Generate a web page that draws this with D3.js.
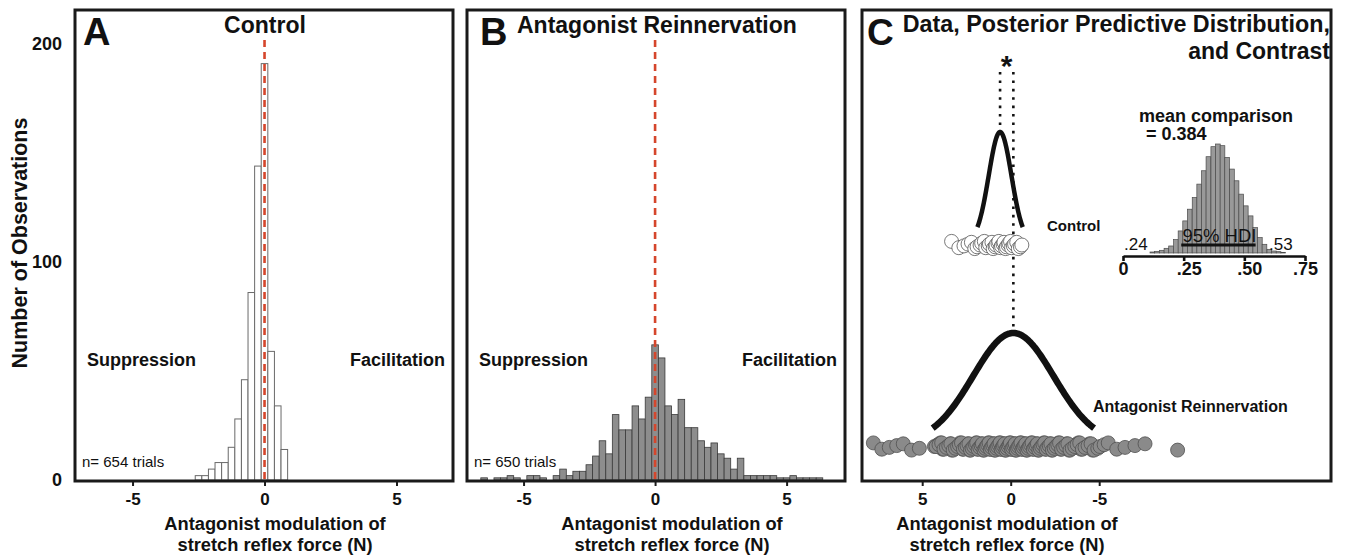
<!DOCTYPE html>
<html>
<head>
<meta charset="utf-8">
<script src="https://cdn.jsdelivr.net/npm/d3@7"></script>
<style>
  html, body { margin: 0; padding: 0; background: #fff; }
  svg { display: block; }
  text { font-family: "Liberation Sans", Arial, Helvetica, sans-serif; fill: #111; }
</style>
</head>
<body>
<svg id="fig" width="1345" height="555"></svg>
<script>
// ---------- data ----------
// Panel A: control trials, histogram (bin centres in N, counts)
const controlBinCenters = [-2.5, -2.25, -2, -1.75, -1.5, -1.25, -1, -0.75, -0.5, -0.25, 0, 0.25, 0.5, 0.75];
const controlCounts     = [2, 2, 5, 8, 8, 15, 28, 46, 86, 144, 191, 59, 34, 14];

// Panel B: antagonist reinnervation trials
const reinnBinCenters = [-6.5, -6.25, -6, -5.75, -5.5, -5.25, -5, -4.75, -4.5, -4.25, -4, -3.75, -3.5, -3.25,
  -3, -2.75, -2.5, -2.25, -2, -1.75, -1.5, -1.25, -1, -0.75, -0.5, -0.25, 0, 0.25, 0.5, 0.75, 1, 1.25,
  1.5, 1.75, 2, 2.25, 2.5, 2.75, 3, 3.25, 3.5, 3.75, 4, 4.25, 4.5, 4.75, 5, 5.25, 5.5, 5.75, 6, 6.25];
const reinnCounts = [1, 0, 1, 1, 2, 1, 0, 2, 2, 1, 0, 2, 5, 2,
  4, 4, 7, 11, 18, 12, 30, 23, 23, 34, 28, 38, 62, 56, 34, 30, 37, 24,
  24, 18, 15, 17, 12, 10, 5, 10, 2, 2, 2, 2, 2, 1, 1, 2, 1, 1, 1, 1];
const binWidth = 0.25;

const xTicks = [-5, 0, 5];
const yTicks = [0, 100, 200];
const nControl = 654;
const nReinn = 650;

// Panel C: individual observations on the contrast axis
const controlDots = [3.34, 2.93, 2.64, 2.41, 2.22, 2.03, 1.9, 1.73, 1.64, 1.49, 1.41, 1.27, 1.2, 1.06,
  0.99, 0.88, 0.83, 0.72, 0.67, 0.57, 0.52, 0.43, 0.38, 0.29, 0.24, 0.15, 0.1, 0.01, -0.05, -0.15,
  -0.22, -0.34, -0.43, -0.55, -0.63];
const reinnDots = [7.76, 7.28, 6.86, 6.44, 6.07, 5.6, 5.16,
  4.31, 4.12, 3.97, 3.85, 3.7, 3.58, 3.41, 3.33, 3.19, 3.05, 2.94, 2.86, 2.71, 2.62, 2.5, 2.43,
  2.31, 2.22, 2.14, 2.03, 1.95, 1.88, 1.79, 1.7, 1.64, 1.55, 1.47, 1.41, 1.33, 1.26, 1.18, 1.12,
  1.04, 0.97, 0.91, 0.84, 0.77, 0.71, 0.63, 0.58, 0.5, 0.44, 0.37, 0.31, 0.24, 0.18, 0.11, 0.05,
  -0.02, -0.08, -0.15, -0.21, -0.28, -0.34, -0.41, -0.47, -0.55, -0.61, -0.68, -0.75, -0.81,
  -0.89, -0.96, -1.02, -1.1, -1.17, -1.25, -1.31, -1.4, -1.47, -1.55, -1.63, -1.7, -1.79, -1.87,
  -1.96, -2.05, -2.13, -2.22, -2.32, -2.41, -2.5, -2.61, -2.7, -2.82, -2.93, -3.05, -3.16, -3.29,
  -3.41, -3.55, -3.68, -3.82, -3.97, -4.12, -4.28, -4.45, -4.62, -4.8,
  4.22, 4.05, 3.9, 3.77, 3.63, 3.5, 3.38, 3.25, 3.12, 3.0, 2.9, 2.78, 2.67, 2.56, 2.47, 2.36,
  2.27, 2.18, 2.09, 1.99, 1.92, 1.84, 1.75, 1.67, 1.6, 1.51, 1.44, 1.37, 1.3, 1.22, 1.15, 1.08,
  1.01, 0.94, 0.87, 0.8, 0.74, 0.67, 0.6, 0.54, 0.47, 0.41, 0.34, 0.27, 0.21, 0.14, 0.08, 0.02,
  -0.05, -0.11, -0.18, -0.25, -0.31, -0.38, -0.44, -0.51, -0.58, -0.64, -0.71, -0.78, -0.85,
  -0.92, -0.99, -1.06, -1.13, -1.21, -1.28, -1.36, -1.43, -1.51, -1.59, -1.67, -1.75, -1.83,
  -1.92, -2.0, -2.09, -2.18, -2.27, -2.36, -2.46, -2.56, -2.66, -2.76, -2.88, -2.99, -3.11,
  -3.23, -3.35, -3.48, -3.62, -3.75, -3.9, -4.05, -4.2, -4.37, -4.54, -4.71, -4.92,
  -5.05, -5.28, -5.51, -5.99, -6.46, -7.02, -7.59, -9.43];
const groupNames = ["Control", "Antagonist Reinnervation"];
const ppMean = [0.6, -0.15];   // posterior predictive means
const ppSD   = [0.64, 2.28];   // posterior predictive SDs
const cTicks = [5, 0, -5];

// Panel C inset: posterior of the mean comparison
const contrastCenters = [0.121, 0.140, 0.160, 0.179, 0.198, 0.218, 0.237, 0.256, 0.275, 0.295, 0.314,
  0.333, 0.352, 0.372, 0.391, 0.410, 0.429, 0.449, 0.468, 0.487, 0.506, 0.526, 0.545, 0.564, 0.583,
  0.603, 0.622, 0.641, 0.660];
const contrastFreq = [3, 5, 8, 14, 21, 40, 66, 96, 131, 166, 206, 246, 288, 318, 326, 321, 286, 251,
  216, 176, 141, 111, 76, 46, 26, 11, 6, 4, 2];
const contrastBinWidth = 0.0193;
const contrastMean = 0.384;
const hdi = [0.24, 0.53];
const contrastTicks = [0, 0.25, 0.5, 0.75];
const contrastTickLabels = ["0", ".25", ".50", ".75"];

// ---------- drawing ----------
const svg = d3.select("#fig");
const FRAME_TOP = 10, FRAME_BOTTOM = 481, BASE = 480;
const red = "#d5462c";
const FONT = "'Liberation Sans', Arial, sans-serif";

const yHist = d3.scaleLinear().domain([0, 200]).range([BASE, 44]);

function styleTicks(sel, size, y) {
  sel.selectAll(".tick text").attr("y", y).attr("dy", null)
    .style("font-size", size + "px").style("font-weight", "bold")
    .style("font-family", FONT).attr("fill", "#111");
}

function histPanel(opt) {
  const g = svg.append("g");
  const x = d3.scaleLinear().domain(opt.domain).range([opt.x0, opt.x1]);

  g.selectAll("rect.bar")
    .data(opt.centers.map((c, i) => ({ c, n: opt.counts[i] })).filter(d => d.n > 0))
    .join("rect")
    .attr("class", "bar")
    .attr("x", d => x(d.c - binWidth / 2))
    .attr("width", d => x(d.c + binWidth / 2) - x(d.c - binWidth / 2))
    .attr("y", d => yHist(d.n))
    .attr("height", d => yHist(0) - yHist(d.n))
    .attr("fill", opt.fill)
    .attr("stroke", opt.stroke)
    .attr("stroke-width", opt.strokeWidth);

  // zero reference
  g.append("line")
    .attr("x1", x(0)).attr("x2", x(0))
    .attr("y1", 40).attr("y2", BASE)
    .attr("stroke", red).attr("stroke-width", 2.6)
    .attr("stroke-dasharray", "7,5");

  // frame
  g.append("rect")
    .attr("x", opt.x0).attr("y", FRAME_TOP)
    .attr("width", opt.x1 - opt.x0).attr("height", FRAME_BOTTOM - FRAME_TOP)
    .attr("fill", "none").attr("stroke", "#1a1a1a").attr("stroke-width", 3);

  // x axis
  const ax = g.append("g").attr("transform", `translate(0,${FRAME_BOTTOM})`)
    .call(d3.axisBottom(x).tickValues(xTicks).tickSize(5).tickFormat(d => String(d)));
  ax.select(".domain").remove();
  ax.selectAll(".tick line").attr("stroke", "#1a1a1a").attr("stroke-width", 2);
  styleTicks(ax, 17, 24);

  // axis title
  const tc = opt.labelX;
  g.append("text").attr("x", tc).attr("y", 530).attr("text-anchor", "middle")
    .style("font-size", "18.3px").style("font-weight", "bold").text("Antagonist modulation of");
  g.append("text").attr("x", tc).attr("y", 551).attr("text-anchor", "middle")
    .style("font-size", "18.3px").style("font-weight", "bold").text("stretch reflex force (N)");

  // panel letter + title
  g.append("text").attr("x", opt.letterX).attr("y", 45)
    .style("font-size", "38px").style("font-weight", "bold").text(opt.letter);
  g.append("text").attr("x", opt.titleX).attr("y", 33).attr("text-anchor", opt.titleAnchor)
    .style("font-size", "23px").style("font-weight", "bold").text(opt.title);

  // region labels
  g.append("text").attr("x", opt.x0 + 12).attr("y", 366)
    .style("font-size", "18px").style("font-weight", "bold").text("Suppression");
  g.append("text").attr("x", opt.x1 - 8).attr("y", 366).attr("text-anchor", "end")
    .style("font-size", "18px").style("font-weight", "bold").text("Facilitation");

  g.append("text").attr("x", opt.x0 + 7).attr("y", 467)
    .style("font-size", "15px").text(`n= ${opt.n} trials`);
  return x;
}

histPanel({
  x0: 75, x1: 453, domain: [-7.18, 7.14],
  centers: controlBinCenters, counts: controlCounts,
  fill: "#fff", stroke: "#6a6a6a", strokeWidth: 1,
  letter: "A", letterX: 83, title: "Control", titleX: 265, titleAnchor: "middle",
  labelX: 275, n: nControl
});
histPanel({
  x0: 467, x1: 845, domain: [-7.15, 7.22],
  centers: reinnBinCenters, counts: reinnCounts,
  fill: "#8d8d8d", stroke: "#3a3a3a", strokeWidth: 0.8,
  letter: "B", letterX: 480, title: "Antagonist Reinnervation", titleX: 517, titleAnchor: "start",
  labelX: 672, n: nReinn
});

// y axis (shared count scale, shown on panel A)
const yAx = svg.append("g").attr("transform", "translate(75,0)")
  .call(d3.axisLeft(yHist).tickValues(yTicks).tickSize(0).tickPadding(13));
yAx.select(".domain").remove();
yAx.selectAll(".tick text").style("font-size", "18px").style("font-weight", "bold")
  .style("font-family", FONT).attr("fill", "#111");
svg.append("text")
  .attr("transform", "translate(27,243) rotate(-90)")
  .attr("text-anchor", "middle")
  .style("font-size", "21.5px").style("font-weight", "bold")
  .text("Number of Observations");

// ---------- panel C ----------
const C = { x0: 862, x1: 1331 };
const xC = d3.scaleLinear().domain([5, -5]).range([922.2, 1099.2]);
const gC = svg.append("g");

const rowBase = [242, 443];   // baseline of each group's curve / dot row
const curveH = 110;
const yCurve = rowBase.map(b => d3.scaleLinear().domain([0, 1]).range([b, b - curveH]));

// mean markers (dotted)
ppMean.forEach((m, i) => {
  gC.append("line")
    .attr("x1", xC(m)).attr("x2", xC(m))
    .attr("y1", 72).attr("y2", yCurve[i](1))
    .attr("stroke", "#111").attr("stroke-width", 2.6)
    .attr("stroke-dasharray", "2.6,5.8");
});
gC.append("text").attr("x", (xC(ppMean[0]) + xC(ppMean[1])) / 2).attr("y", 76)
  .attr("text-anchor", "middle").style("font-size", "30px").style("font-weight", "bold").text("*");

// posterior predictive curves over +/- 2 SD
ppMean.forEach((m, i) => {
  const s = ppSD[i];
  const pts = d3.range(0, 121).map(k => m - 2 * s + (4 * s) * k / 120);
  const line = d3.line()
    .x(v => xC(v))
    .y(v => yCurve[i](Math.exp(-((v - m) ** 2) / (2 * s * s))));
  gC.append("path").datum(pts).attr("d", line)
    .attr("fill", "none").attr("stroke", "#111")
    .attr("stroke-width", i === 0 ? 4.5 : 6.5).attr("stroke-linejoin", "round");
});

// observations
const jit = i => ((i * 7) % 9 - 4) * 0.9;
gC.selectAll("circle.ctrl").data(controlDots).join("circle")
  .attr("class", "ctrl")
  .attr("cx", d => xC(d)).attr("cy", (d, i) => rowBase[0] + 3 + jit(i))
  .attr("r", 7).attr("fill", "#fff").attr("stroke", "#555").attr("stroke-width", 0.8);
gC.selectAll("circle.reinn").data(reinnDots).join("circle")
  .attr("class", "reinn")
  .attr("cx", d => xC(d)).attr("cy", (d, i) => rowBase[1] + 3.5 + jit(i))
  .attr("r", 7).attr("fill", "#8a8a8a").attr("stroke", "#505050").attr("stroke-width", 0.8);

// group labels
gC.append("text").attr("x", 1047).attr("y", 231)
  .style("font-size", "15px").style("font-weight", "bold").text(groupNames[0]);
gC.append("text").attr("x", 1093).attr("y", 412)
  .style("font-size", "16px").style("font-weight", "bold").text(groupNames[1]);

// inset: contrast posterior
const xIn = d3.scaleLinear().domain([0, 0.75]).range([1123, 1305]);
const yIn = d3.scaleLinear().domain([0, d3.max(contrastFreq)]).range([253, 144]);
gC.selectAll("rect.contrast")
  .data(contrastCenters.map((c, i) => ({ c, f: contrastFreq[i] })))
  .join("rect").attr("class", "contrast")
  .attr("x", d => xIn(d.c - contrastBinWidth / 2))
  .attr("width", d => xIn(d.c + contrastBinWidth / 2) - xIn(d.c - contrastBinWidth / 2))
  .attr("y", d => yIn(d.f)).attr("height", d => yIn(0) - yIn(d.f))
  .attr("fill", "#999").attr("stroke", "#4a4a4a").attr("stroke-width", 0.7);

const inAx = gC.append("g").attr("transform", "translate(0,256)")
  .call(d3.axisBottom(xIn).tickValues(contrastTicks).tickSize(5).tickSizeOuter(0)
    .tickFormat((d, i) => contrastTickLabels[i]));
inAx.select(".domain").attr("stroke", "#111").attr("stroke-width", 2.6);
inAx.selectAll(".tick line").attr("stroke", "#111").attr("stroke-width", 2.6);
styleTicks(inAx, 18, 19);
inAx.selectAll(".tick text").attr("dx", d => (d === 0 || d === 0.75 ? 0 : 5));

gC.append("line").attr("x1", xIn(hdi[0])).attr("x2", xIn(hdi[1]) + 4)
  .attr("y1", 245).attr("y2", 245).attr("stroke", "#111").attr("stroke-width", 3);
gC.append("text").attr("x", (xIn(hdi[0]) + xIn(hdi[1])) / 2 + 3).attr("y", 241.5)
  .attr("text-anchor", "middle").style("font-size", "18.5px").text("95% HDI");
gC.append("text").attr("x", 1124).attr("y", 250)
  .style("font-size", "17px").text(String(hdi[0]).replace(/^0/, ""));
gC.append("text").attr("x", 1269).attr("y", 250)
  .style("font-size", "17px").text(String(hdi[1]).replace(/^0/, ""));

gC.append("text").attr("x", 1139).attr("y", 122)
  .style("font-size", "18px").style("font-weight", "bold").text("mean comparison");
gC.append("text").attr("x", 1146).attr("y", 140)
  .style("font-size", "18px").style("font-weight", "bold").text(`= ${contrastMean}`);

// frame C
gC.append("rect").attr("x", C.x0).attr("y", FRAME_TOP)
  .attr("width", C.x1 - C.x0).attr("height", FRAME_BOTTOM - FRAME_TOP)
  .attr("fill", "none").attr("stroke", "#1a1a1a").attr("stroke-width", 3);

const cAx = gC.append("g").attr("transform", `translate(0,${FRAME_BOTTOM})`)
  .call(d3.axisBottom(xC).tickValues(cTicks).tickSize(5).tickFormat(d => String(d)));
cAx.select(".domain").remove();
cAx.selectAll(".tick line").attr("stroke", "#1a1a1a").attr("stroke-width", 2);
styleTicks(cAx, 17, 24);
gC.append("text").attr("x", 1007).attr("y", 530).attr("text-anchor", "middle")
  .style("font-size", "18.3px").style("font-weight", "bold").text("Antagonist modulation of");
gC.append("text").attr("x", 1007).attr("y", 551).attr("text-anchor", "middle")
  .style("font-size", "18.3px").style("font-weight", "bold").text("stretch reflex force (N)");

// titles
gC.append("text").attr("x", 867).attr("y", 45)
  .style("font-size", "37px").style("font-weight", "bold").text("C");
gC.append("text").attr("x", 1330).attr("y", 32).attr("text-anchor", "end")
  .style("font-size", "23.3px").style("font-weight", "bold").text("Data, Posterior Predictive Distribution,");
gC.append("text").attr("x", 1330).attr("y", 59).attr("text-anchor", "end")
  .style("font-size", "23px").style("font-weight", "bold").text("and Contrast");
</script>
</body>
</html>
